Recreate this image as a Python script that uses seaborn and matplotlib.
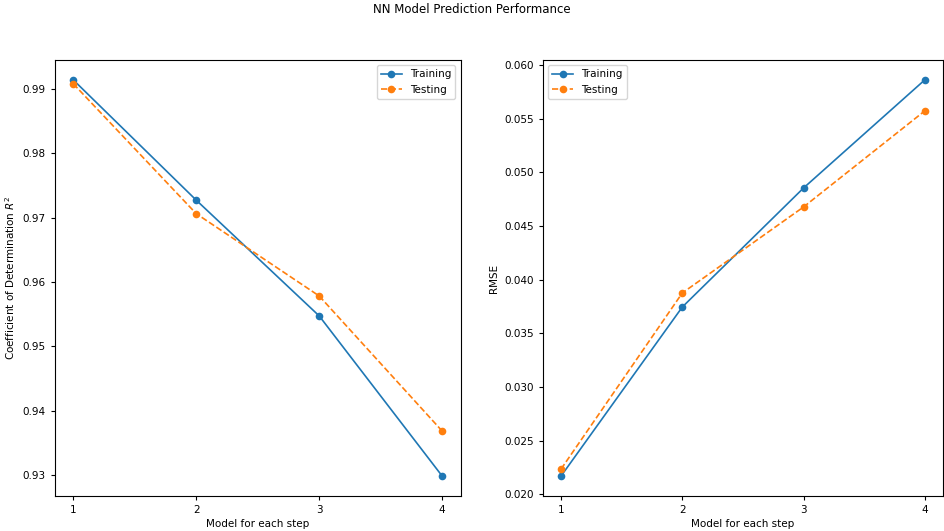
import matplotlib
matplotlib.use("Agg")
import matplotlib.pyplot as plt
import seaborn as sns
import pandas as pd

models = [1, 2, 3, 4]
r2_train = [0.9914, 0.9727, 0.9547, 0.9298]
r2_test = [0.9908, 0.9706, 0.9578, 0.9368]
rmse_train = [0.02168, 0.03744, 0.04854, 0.05862]
rmse_test = [0.02233, 0.03875, 0.04677, 0.05573]

fig = plt.figure(figsize=(9.44, 5.31), dpi=100)
ax1 = fig.add_axes([0.058, 0.066, 0.430, 0.821])
ax2 = fig.add_axes([0.575, 0.066, 0.424, 0.821])

for ax, tr, te, ylabel in [(ax1, r2_train, r2_test, "Coefficient of Determination $R^2$"),
                           (ax2, rmse_train, rmse_test, "RMSE")]:
    sns.lineplot(x=models, y=tr, ax=ax, marker="o", markeredgecolor="none", markersize=5.5,
                 linewidth=1.2, color="#1f77b4", label="Training")
    sns.lineplot(x=models, y=te, ax=ax, marker="o", markeredgecolor="none", markersize=5.5,
                 linewidth=1.2, color="#ff7f0e", linestyle="--", label="Testing")
    ax.set_xticks(models)
    ax.set_xlabel("Model for each step", fontsize=7.5, labelpad=3)
    ax.set_ylabel(ylabel, fontsize=7.5)
    ax.tick_params(labelsize=7.5, length=3)

ax1.legend(loc="upper right", fontsize=7.5)
ax2.legend(loc="upper left", fontsize=7.5)
ax1.set_yticks([0.93, 0.94, 0.95, 0.96, 0.97, 0.98, 0.99])
ax2.set_yticks([0.020, 0.025, 0.030, 0.035, 0.040, 0.045, 0.050, 0.055, 0.060])
ax2.yaxis.set_major_formatter(matplotlib.ticker.FormatStrFormatter("%.3f"))

fig.suptitle("NN Model Prediction Performance", fontsize=8.5, y=0.995)
fig.savefig("out.png", dpi=100)
